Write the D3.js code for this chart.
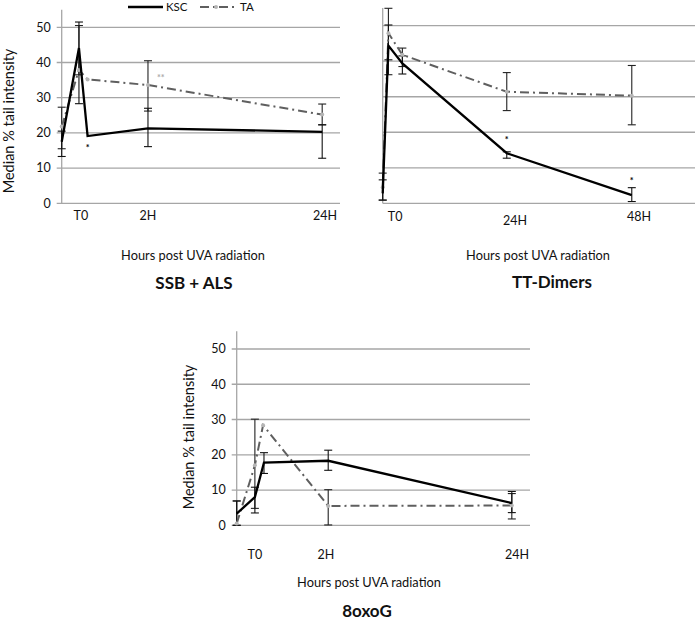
<!DOCTYPE html>
<html><head><meta charset="utf-8">
<script src="https://cdn.jsdelivr.net/npm/d3@7"></script>
<style>body{margin:0;background:#fff} svg text{font-family:Lato,"Open Sans",sans-serif;fill:#111}</style>
</head><body><svg id="c" width="695" height="621"></svg>
<script>
// ---------- data ----------
const seriesNames = ["KSC", "TA"];
const yTicks = [0, 10, 20, 30, 40, 50];
const xTitle = "Hours post UVA radiation";
const yTitle = "Median % tail intensity";

// SSB + ALS
const ssbTickPos = [6.9, 31, 94.6];
const ssbTickLabels = ["T0", "2H", "24H"];
const ssbKscX = [0, 6.2, 9.3, 31, 93.6];
const ssbKsc = [17.5, 44.1, 19.1, 21.3, 20.3];
const ssbKscErr = [[13.3, 20.5], [28.3, 51.5], null, [16.1, 27.0], [12.8, 22.3]];
const ssbTaX = [0, 6.2, 9.3, 31, 93.6];
const ssbTa = [21.8, 37.9, 35.2, 33.6, 25.2];
const ssbTaErr = [[15.5, 27.3], [36.5, 50.5], null, [26.2, 40.5], [22.3, 28.2]];
const ssbStars = [{x: 9.3, v: 16.4, s: "*", k: "KSC"}, {x: 35.6, v: 36.2, s: "**", k: "TA"}];

// TT-Dimers
const ttTickPos = [3.9, 41.7, 80.8];
const ttTickLabels = ["T0", "24H", "48H"];
const ttKscX = [0, 1.8, 6.2, 39.1, 78.5];
const ttKsc = [2.8, 44.4, 39.4, 14.1, 2.3];
const ttKscErr = [[0.9, 6.6], [40.4, 50.2], [36.4, 41.5], [12.7, 14.5], [0.5, 4.4]];
const ttTaX = [0, 1.8, 6.2, 39.1, 78.5];
const ttTa = [4.5, 47.9, 41.8, 31.4, 30.3];
const ttTaErr = [[0.9, 8.5], [36.2, 54.9], [38.5, 43.7], [26.1, 36.8], [22.1, 38.8]];
const ttStars = [{x: 39.1, v: 18.5, s: "*", k: "KSC"}, {x: 78.5, v: 6.8, s: "*", k: "KSC"}];

// 8oxoG
const oxTickPos = [6.2, 30.4, 95.6];
const oxTickLabels = ["T0", "2H", "24H"];
const oxKscX = [0, 6.2, 9.3, 31.2, 93.8];
const oxKsc = [3.3, 8.0, 17.8, 18.3, 6.3];
const oxKscErr = [[0, 6.9], [3.5, 10.8], [14.7, 20.6], [15.6, 21.3], [3.6, 9.6]];
const oxTaX = [0, 6.2, 9.0, 31.2, 93.8];
const oxTa = [0.5, 17.0, 28.4, 5.5, 5.6];
const oxTaErr = [[0, 6.9], [4.8, 30.1], null, [0.1, 10.1], [1.8, 9.0]];
const oxStars = [];

// ---------- layout ----------
const panels = [
  {title: "SSB + ALS", left: 61.7, right: 340, y0: 203.3, y50: 27.3, yLabels: true,
   tickPos: ssbTickPos, tickLabels: ssbTickLabels, tickDy: [0, 0, 0], tickY: 216,
   ksc: {x: ssbKscX, v: ssbKsc, e: ssbKscErr}, ta: {x: ssbTaX, v: ssbTa, e: ssbTaErr}, stars: ssbStars,
   xTitleX: 193, xTitleY: 256, titleX: 194, titleY: 283, yTitleX: 9, yTitleY: 121, legend: true},
  {title: "TT-Dimers", left: 382.7, right: 700, y0: 203.3, y50: 25.7, yLabels: false,
   tickPos: ttTickPos, tickLabels: ttTickLabels, tickDy: [0, 4, 0], tickY: 217,
   ksc: {x: ttKscX, v: ttKsc, e: ttKscErr}, ta: {x: ttTaX, v: ttTa, e: ttTaErr}, stars: ttStars,
   xTitleX: 538, xTitleY: 256, titleX: 552, titleY: 282, yTitleX: null, legend: false},
  {title: "8oxoG", left: 236.7, right: 530, y0: 525.3, y50: 349, yLabels: true,
   tickPos: oxTickPos, tickLabels: oxTickLabels, tickDy: [0, 0, 0], tickY: 555,
   ksc: {x: oxKscX, v: oxKsc, e: oxKscErr}, ta: {x: oxTaX, v: oxTa, e: oxTaErr}, stars: oxStars,
   xTitleX: 369, xTitleY: 583, titleX: 367, titleY: 611, yTitleX: 189, yTitleY: 437, legend: false}
];

const svg = d3.select("#c");
const gridCol = "#a6a6a6";
const taCol = "#5f5f5f";

panels.forEach(p => {
  const unit = (p.y0 - p.y50) / 50;
  const y = d3.scaleLinear().domain([0, 55]).range([p.y0, p.y0 - 55 * unit]);
  const x = d3.scaleLinear().domain([0, 100]).range([p.left, p.right]);
  const g = svg.append("g");

  // gridlines
  g.selectAll("line.grid").data(yTicks).join("line")
    .attr("x1", p.yLabels ? p.left - 5 : p.left).attr("x2", p.right)
    .attr("y1", d => y(d)).attr("y2", d => y(d))
    .attr("stroke", gridCol).attr("stroke-width", 1.3);
  // y axis line
  g.append("line").attr("x1", p.left).attr("x2", p.left)
    .attr("y1", y(55)).attr("y2", y(0)).attr("stroke", gridCol).attr("stroke-width", 1.3);

  if (p.yLabels) {
    g.selectAll("text.yt").data(yTicks).join("text")
      .attr("x", p.left - 11).attr("y", d => y(d)).attr("dy", "0.35em")
      .attr("text-anchor", "end").style("font-size", "12.5px").text(d => d);
  }
  // x tick labels
  g.selectAll("text.xt").data(p.tickPos).join("text")
    .attr("x", d => x(d)).attr("y", (d, i) => p.tickY + p.tickDy[i]).attr("dy", "0.35em")
    .attr("text-anchor", "middle").style("font-size", "12.5px").text((d, i) => p.tickLabels[i]);

  // titles
  g.append("text").attr("x", p.xTitleX).attr("y", p.xTitleY).attr("dy", "0.35em")
    .attr("text-anchor", "middle").style("font-size", "12.8px").text(xTitle);
  g.append("text").attr("x", p.titleX).attr("y", p.titleY).attr("dy", "0.35em")
    .attr("text-anchor", "middle").style("font-size", "17px").style("font-weight", "bold").text(p.title);
  if (p.yTitleX !== null) {
    g.append("text").attr("transform", `translate(${p.yTitleX},${p.yTitleY}) rotate(-90)`)
      .attr("dy", "0.35em").attr("text-anchor", "middle").style("font-size", "14.5px").text(yTitle);
  }

  // error bars
  const drawErr = (s, col) => {
    const eb = s.e.map((e, i) => e ? {x: s.x[i], lo: e[0], hi: e[1]} : null).filter(d => d);
    const eg = g.append("g").attr("stroke", col).attr("stroke-width", 1.1);
    eb.forEach(d => {
      eg.append("line").attr("x1", x(d.x)).attr("x2", x(d.x)).attr("y1", y(d.lo)).attr("y2", y(d.hi));
      [d.lo, d.hi].forEach(v => eg.append("line").attr("x1", x(d.x) - 4).attr("x2", x(d.x) + 4)
        .attr("y1", y(v)).attr("y2", y(v)));
    });
  };
  drawErr(p.ta, "#222");
  drawErr(p.ksc, "#111");

  const line = d3.line().x(d => x(d[0])).y(d => y(d[1]));
  const taPts = p.ta.x.map((v, i) => [v, p.ta.v[i]]);
  const kscPts = p.ksc.x.map((v, i) => [v, p.ksc.v[i]]);
  g.append("path").attr("d", line(taPts)).attr("fill", "none").attr("stroke", taCol)
    .attr("stroke-width", 2).attr("stroke-dasharray", "9,4,2,4");
  g.selectAll("circle.ta").data(taPts).join("circle")
    .attr("cx", d => x(d[0])).attr("cy", d => y(d[1])).attr("r", 2).attr("fill", "#b5b5b5");
  g.append("path").attr("d", line(kscPts)).attr("fill", "none").attr("stroke", "#000")
    .attr("stroke-width", 2.3).attr("stroke-linejoin", "miter");

  // significance marks
  g.selectAll("text.star").data(p.stars).join("text")
    .attr("x", d => x(d.x)).attr("y", d => y(d.v) + 5).attr("text-anchor", "middle")
    .style("font-size", "9px").style("font-weight", "bold")
    .style("fill", d => d.k === "TA" ? "#aaa" : "#000").text(d => d.s);

  if (p.legend) {
    const lg = svg.append("g");
    lg.append("line").attr("x1", 128).attr("x2", 163).attr("y1", 7).attr("y2", 7)
      .attr("stroke", "#000").attr("stroke-width", 2.3);
    lg.append("text").attr("x", 166).attr("y", 7).attr("dy", "0.35em").style("font-size", "11.5px").text(seriesNames[0]);
    lg.append("line").attr("x1", 200).attr("x2", 234).attr("y1", 7).attr("y2", 7)
      .attr("stroke", taCol).attr("stroke-width", 2).attr("stroke-dasharray", "9,4,2,4");
    lg.append("circle").attr("cx", 216).attr("cy", 7).attr("r", 2).attr("fill", "#b5b5b5");
    lg.append("text").attr("x", 240).attr("y", 7).attr("dy", "0.35em").style("font-size", "11.5px").text(seriesNames[1]);
  }
});
</script></body></html>
